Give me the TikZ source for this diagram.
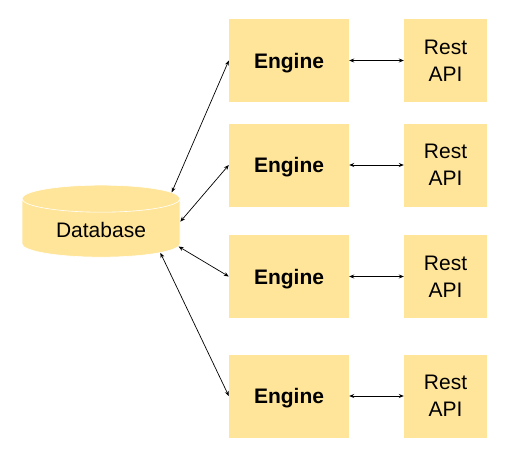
\documentclass[tikz,border=0pt]{standalone}
\usepackage{fontspec}
\setmainfont{Liberation Sans}
\usetikzlibrary{shapes.geometric,arrows.meta}
\definecolor{boxfill}{HTML}{FFE599}
\tikzset{
  box/.style={fill=boxfill,inner sep=0pt,font=\fontsize{21}{27}\selectfont,align=center},
  engine/.style={box,minimum width=120pt,minimum height=83pt,text depth=0pt,font=\fontsize{21}{27}\selectfont\bfseries},
  api/.style={box,minimum width=83pt,minimum height=83pt},
  link/.style={<->,>={Stealth[length=5pt,width=4pt]},line width=0.7pt}
}
\begin{document}
\begin{tikzpicture}[x=1pt,y=-1pt]
\useasboundingbox (0,0) rectangle (517,460);
% database
\node[cylinder,shape border rotate=90,aspect=0.28,fill=boxfill,draw=white,line width=0.6pt,
  minimum width=158pt,minimum height=72pt,font=\fontsize{21}{27}\selectfont] (db) at (101,230) {Database};
% engines
\node[engine] (e1) at (289,60.5) {Engine};
\node[engine] (e2) at (289,165) {Engine};
\node[engine] (e3) at (289,276.5) {Engine};
\node[engine] (e4) at (289,396) {Engine};
% rest apis
\node[api] (r1) at (445.5,60.5) {Rest\\API};
\node[api] (r2) at (445.5,165) {Rest\\API};
\node[api] (r3) at (445.5,276.5) {Rest\\API};
\node[api] (r4) at (445.5,396) {Rest\\API};
\draw[link] (db.28) -- (e1.west);
\draw[link] (db.6) -- (e2.west);
\draw[link] (db.-12) -- (e3.west);
\draw[link] (db.-21) -- (e4.west);
\foreach \i in {1,...,4}
  \draw[link] (e\i.east) -- (r\i.west);
\end{tikzpicture}
\end{document}
